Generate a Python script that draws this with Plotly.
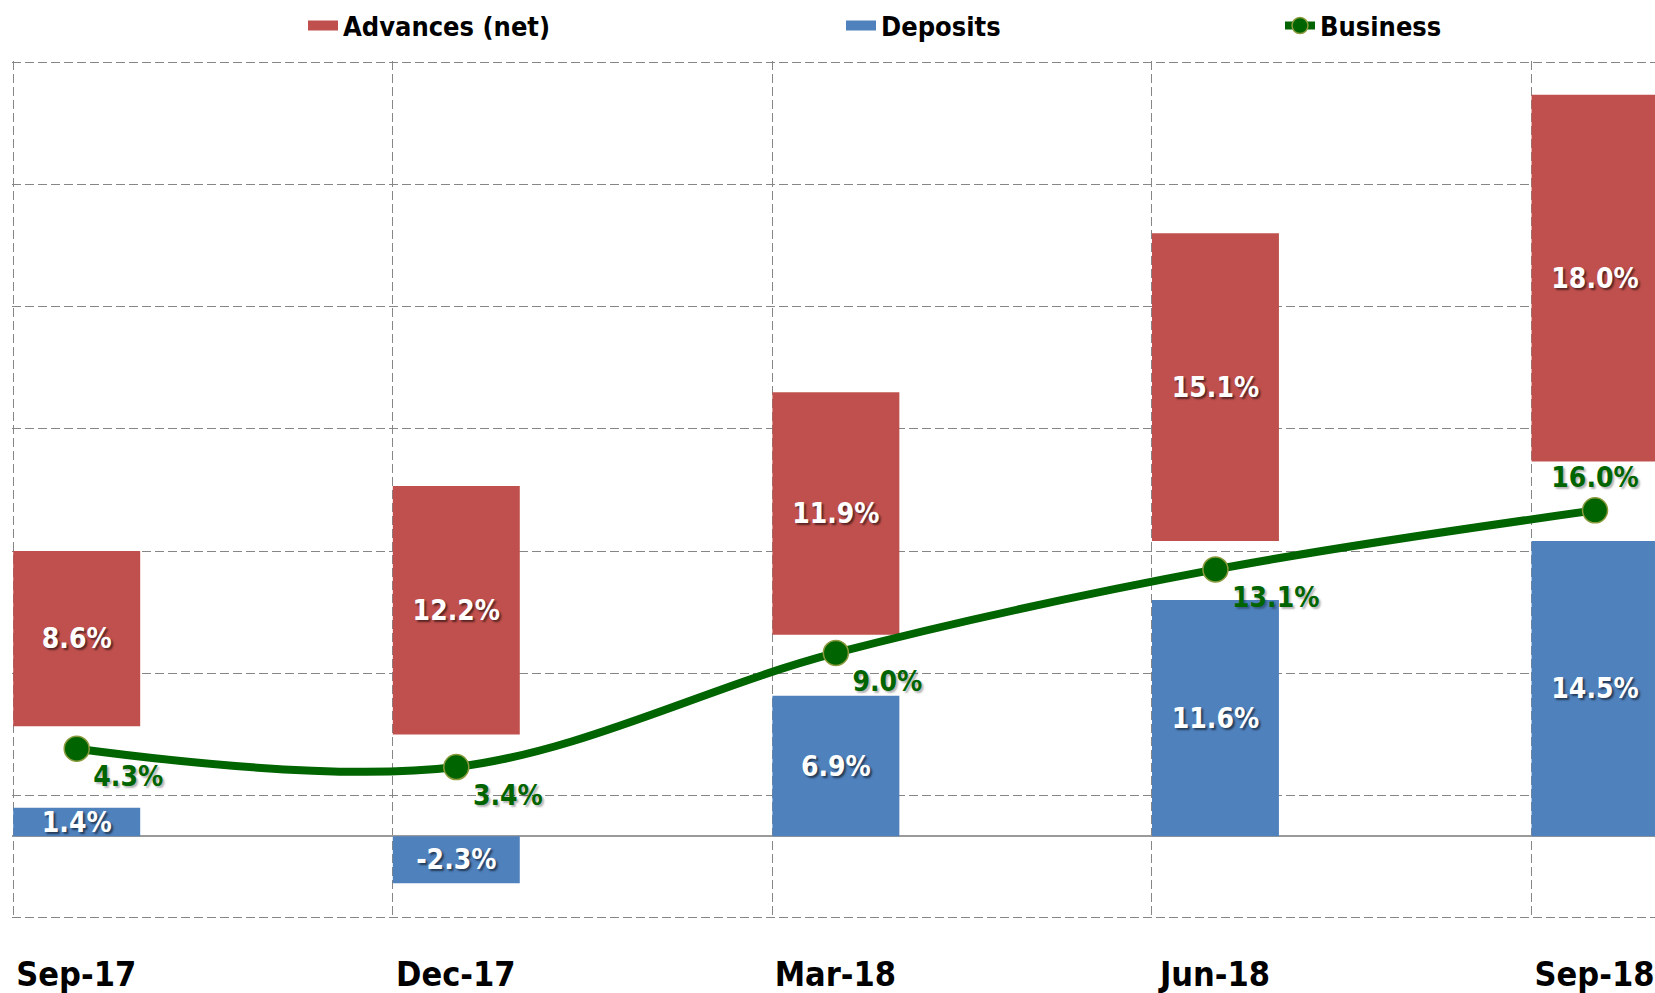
import plotly.graph_objects as go

categories = ["Sep-17", "Dec-17", "Mar-18", "Jun-18", "Sep-18"]
advances = [8.6, 12.2, 11.9, 15.1, 18.0]
advances_offset = [5.4, 5.0, 9.9, 14.5, 18.4]
deposits = [1.4, -2.3, 6.9, 11.6, 14.5]
business = [4.3, 3.4, 9.0, 13.1, 16.0]

RED = "#C0504D"
BLUE = "#4F81BD"
GREEN = "#006400"
FONT = "DejaVu Sans Condensed"

W, H = 1655, 993
ML, MR, MT, MB = 12, 0, 61, 74
bar_w = 0.3345
x = list(range(len(categories)))
x0, x1 = -0.1705, 4.158
y0, y1 = -4.06, 38.06
px_per_unit = (W - ML - MR) / (x1 - x0)

white_shadow = "2px 2px 2px rgba(0,0,0,0.55)"
green_shadow = "2px 2px 2px rgba(0,0,0,0.30)"
GRID = "#868686"

fig = go.Figure()
fig.add_trace(go.Bar(
    x=x, y=advances, base=advances_offset, width=bar_w, name="Advances (net)",
    marker=dict(color=RED, line=dict(width=0)),
    text=[f"{v:.1f}%" for v in advances], textposition="inside",
    insidetextanchor="middle", constraintext="none",
    insidetextfont=dict(family=FONT, size=28, color="white", weight="bold", shadow=white_shadow),
    showlegend=False, hoverinfo="skip",
))
fig.add_trace(go.Bar(
    x=x, y=deposits, width=bar_w, name="Deposits",
    marker=dict(color=BLUE, line=dict(width=0)),
    text=[f"{v:.1f}%" for v in deposits], textposition="inside",
    insidetextanchor="middle", constraintext="none",
    insidetextfont=dict(family=FONT, size=28, color="white", weight="bold", shadow=white_shadow),
    showlegend=False, hoverinfo="skip",
))
fig.add_trace(go.Scatter(
    x=x, y=business, name="Business", mode="lines+markers+text",
    line=dict(color=GREEN, width=8, shape="spline", smoothing=1.0),
    marker=dict(size=25, color=GREEN, line=dict(color="#8A9A3C", width=1.5)),
    text=[f"{v:.1f}%" for v in business],
    textposition=["bottom right", "bottom right", "bottom right", "bottom right", "top center"],
    textfont=dict(family=FONT, size=28, color=GREEN, weight="bold", shadow=green_shadow),
    legend="legend3", hoverinfo="skip", cliponaxis=False,
))
# legend-only entries drawn as thick swatches for the two bar series
fig.add_trace(go.Scatter(
    x=[None], y=[None], mode="lines", name="Advances (net)",
    line=dict(color=RED, width=17), legend="legend", hoverinfo="skip",
))
fig.add_trace(go.Scatter(
    x=[None], y=[None], mode="lines", name="Deposits",
    line=dict(color=BLUE, width=17), legend="legend2", hoverinfo="skip",
))

legend_common = dict(
    orientation="h", xref="container", yref="container", yanchor="middle",
    y=1 - 26 / H, bgcolor="rgba(0,0,0,0)", borderwidth=0,
    font=dict(family=FONT, size=27, color="black", weight="bold"),
)
fig.update_layout(
    width=W, height=H,
    margin=dict(l=ML, r=MR, t=MT, b=MB),
    paper_bgcolor="white", plot_bgcolor="white",
    barmode="overlay",
    showlegend=True,
    legend=dict(x=303 / W, **legend_common),
    legend2=dict(x=841 / W, **legend_common),
    legend3=dict(x=1280 / W, **legend_common),
    xaxis=dict(
        range=[x0, x1],
        tickmode="array",
        tickvals=[i - bar_w / 2 for i in x],
        ticktext=categories,
        ticklabelshift=int(round(bar_w / 2 * px_per_unit)),
        ticklabelstandoff=32,
        tickfont=dict(family=FONT, size=34, color="black", weight="bold"),
        showgrid=True, gridcolor=GRID, griddash="9px,4px", gridwidth=1,
        zeroline=False, showline=False, ticks="",
    ),
    yaxis=dict(
        range=[y0, y1], tick0=-4, dtick=6,
        showgrid=True, gridcolor=GRID, griddash="9px,4px", gridwidth=1,
        zeroline=True, zerolinecolor="#9A9A9A", zerolinewidth=2,
        showticklabels=False, showline=False, ticks="",
    ),
)

fig.write_html("out.html", config={"displayModeBar": False},
               post_script="document.body.style.margin='0';")
